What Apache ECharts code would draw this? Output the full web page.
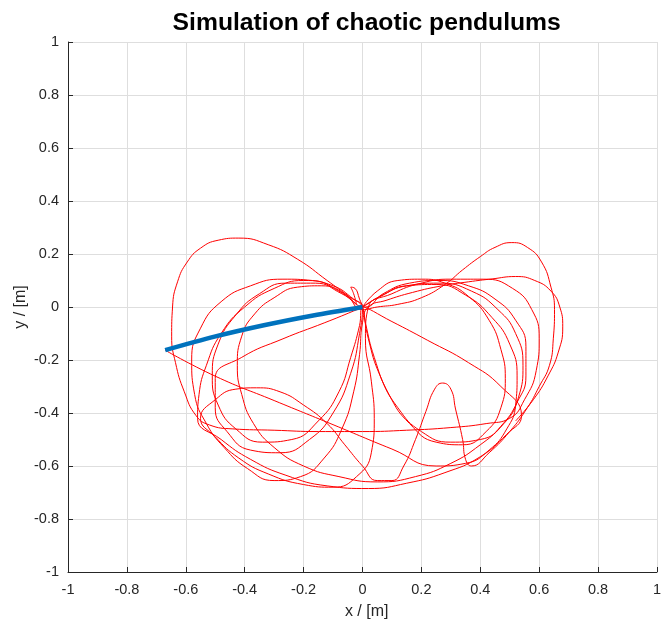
<!DOCTYPE html>
<html><head><meta charset="utf-8">
<script src="https://cdn.jsdelivr.net/npm/echarts@6/dist/echarts.min.js"></script>
<style>html,body{margin:0;padding:0;background:#fff}#c{width:664px;height:627px}</style>
</head><body><div id="c"></div>
<script>
const titleText = 'Simulation of chaotic pendulums';
const xLabel = 'x / [m]';
const yLabel = 'y / [m]';
const xTicks = [-1, -0.8, -0.6, -0.4, -0.2, 0, 0.2, 0.4, 0.6, 0.8, 1];
const yTicks = [-1, -0.8, -0.6, -0.4, -0.2, 0, 0.2, 0.4, 0.6, 0.8, 1];

// pendulum chain (pivot ... tip)
const armPoints = [[0, 0], [-0.1675, -0.032], [-0.335, -0.069], [-0.5025, -0.112], [-0.67, -0.163]];

// traced tip trajectory, segment by segment
const segA = [[0.52,-0.43],[0.58,-0.35],[0.63,-0.26],[0.665,-0.17],[0.68,-0.075],[0.67,0.0],[0.64,0.06],[0.585,0.1],[0.52,0.115],[0.44,0.106],[0.36,0.095],[0.27,0.08],[0.17,0.055],[0.08,0.025],[0.02,0.0]];
const segB = [[0.0,-0.06],[-0.01,-0.18],[-0.03,-0.32],[-0.07,-0.46],[-0.13,-0.57],[-0.21,-0.64],[-0.3,-0.655],[-0.39,-0.61],[-0.47,-0.53],[-0.53,-0.44],[-0.57,-0.33],[-0.58,-0.2],[-0.55,-0.08],[-0.48,0.02],[-0.38,0.08],[-0.27,0.105],[-0.17,0.1],[-0.08,0.06],[-0.02,0.01]];
const segC = [[-0.03,0.05],[-0.04,0.075],[-0.025,0.07],[-0.01,0.03],[0.0,0.0]];
const segQ = [[0.02,-0.12],[0.06,-0.26],[0.12,-0.38],[0.2,-0.47],[0.3,-0.51],[0.4,-0.5],[0.48,-0.44],[0.53,-0.34],[0.545,-0.22],[0.52,-0.1],[0.46,-0.01],[0.37,0.06],[0.26,0.09],[0.15,0.08],[0.06,0.04],[0.0,0.0]];
const segD = [[0.05,0.06],[0.12,0.1],[0.2,0.105],[0.28,0.09],[0.36,0.04],[0.43,-0.05],[0.47,-0.16],[0.485,-0.27],[0.47,-0.38],[0.42,-0.47],[0.34,-0.52],[0.25,-0.51],[0.16,-0.44],[0.09,-0.33],[0.04,-0.19],[0.01,-0.06],[0.0,0.0]];
const segE = [[-0.044,0.038],[-0.12,0.1],[-0.22,0.18],[-0.32,0.235],[-0.42,0.26],[-0.49,0.252],[-0.55,0.222],[-0.595,0.17],[-0.628,0.095],[-0.645,0.0],[-0.648,-0.11],[-0.635,-0.21],[-0.605,-0.32],[-0.565,-0.41]];
const segF = [[-0.52,-0.445],[-0.44,-0.46],[-0.3,-0.465],[-0.15,-0.47],[0.0,-0.47],[0.15,-0.465],[0.3,-0.455],[0.42,-0.44],[0.5,-0.42]];
const segG = [[0.55,-0.35],[0.59,-0.24],[0.6,-0.12],[0.575,-0.01],[0.51,0.07],[0.41,0.105],[0.3,0.105],[0.2,0.09],[0.1,0.05],[0.02,0.0]];
const segH = [[0.01,-0.12],[0.03,-0.28],[0.04,-0.42],[0.03,-0.55],[-0.02,-0.64],[-0.1,-0.68],[-0.2,-0.67],[-0.32,-0.63],[-0.42,-0.57],[-0.5,-0.49],[-0.55,-0.42]];
const segI = [[-0.5,-0.35],[-0.43,-0.31],[-0.36,-0.305],[-0.28,-0.32],[-0.2,-0.37],[-0.12,-0.44],[-0.06,-0.52],[0.0,-0.6],[0.05,-0.655],[0.1,-0.655],[0.14,-0.6],[0.18,-0.5],[0.215,-0.395],[0.245,-0.31],[0.272,-0.287],[0.3,-0.31],[0.316,-0.385],[0.34,-0.5],[0.35,-0.575],[0.37,-0.6],[0.43,-0.55],[0.5,-0.47],[0.56,-0.38]];
const segJ = [[0.6,-0.3],[0.635,-0.22],[0.648,-0.12],[0.652,-0.01],[0.64,0.075],[0.608,0.17],[0.56,0.225],[0.507,0.243],[0.45,0.225],[0.4,0.19],[0.34,0.14],[0.28,0.085],[0.2,0.035],[0.12,0.01],[0.05,0.0],[0.0,-0.01]];
const segK = [[-0.06,0.05],[-0.14,0.08],[-0.22,0.075],[-0.3,0.035],[-0.366,-0.026],[-0.41,-0.11],[-0.425,-0.22],[-0.41,-0.33],[-0.37,-0.44],[-0.3,-0.53],[-0.2,-0.6],[-0.08,-0.64],[0.05,-0.66],[0.18,-0.64],[0.3,-0.59],[0.4,-0.52],[0.47,-0.45]];
const segL = [[0.525,-0.36],[0.555,-0.26],[0.555,-0.15],[0.52,-0.05],[0.45,0.03],[0.36,0.08],[0.26,0.1],[0.16,0.09],[0.07,0.05],[0.01,0.0]];
const segR = [[-0.07,0.05],[-0.16,0.09],[-0.26,0.09],[-0.35,0.05],[-0.43,-0.03],[-0.49,-0.14],[-0.51,-0.26],[-0.49,-0.37],[-0.43,-0.46],[-0.34,-0.51],[-0.24,-0.5],[-0.15,-0.43],[-0.08,-0.32],[-0.04,-0.19],[-0.01,-0.07],[0.0,0.0]];
const segM = [[0.1,-0.055],[0.22,-0.125],[0.36,-0.21],[0.47,-0.3],[0.54,-0.41],[0.49,-0.48],[0.4,-0.565],[0.28,-0.625],[0.15,-0.665],[0.02,-0.685],[-0.12,-0.675],[-0.26,-0.635],[-0.38,-0.575],[-0.48,-0.5],[-0.56,-0.42]];
const segN = [[-0.555,-0.33],[-0.53,-0.22],[-0.48,-0.1],[-0.4,0.0],[-0.3,0.07],[-0.2,0.1],[-0.1,0.08],[-0.03,0.03],[0.0,0.0]];
const segO = [[-0.01,-0.1],[-0.04,-0.25],[-0.1,-0.4],[-0.18,-0.5],[-0.28,-0.55],[-0.38,-0.54],[-0.46,-0.47],[-0.5,-0.38],[-0.5,-0.27],[-0.41,-0.19],[-0.27,-0.12],[-0.13,-0.06],[-0.03,-0.015],[0.0,0.0]];
const segP = [[0.06,0.04],[0.15,0.08],[0.25,0.085],[0.35,0.045],[0.44,-0.04],[0.5,-0.14],[0.525,-0.26],[0.52,-0.37],[0.49,-0.46],[0.43,-0.54],[0.35,-0.59],[0.25,-0.6],[0.1,-0.536],[-0.1,-0.444],[-0.3,-0.353],[-0.5,-0.261],[-0.67,-0.163]];

const trajectory = [].concat(segA, segB, segC, segQ, segD, segE, segF, segG, segH, segI, segJ, segK, segL, segR, segM, segN, segO, segP);

const FONT = '"Liberation Sans", Arial, Helvetica, sans-serif';
const AX = '#262626';

function axis(ticks, margin) {
  return {
    type: 'value',
    min: ticks[0],
    max: ticks[ticks.length - 1],
    interval: 0.2,
    axisLine: { show: true, onZero: false, lineStyle: { color: AX, width: 1 } },
    axisTick: { show: true, inside: true, length: 5, lineStyle: { color: AX, width: 1 } },
    axisLabel: { color: AX, fontSize: 14.5, fontFamily: FONT, margin: margin },
    splitLine: { show: true, lineStyle: { color: '#dedede', width: 1 } }
  };
}

const chart = echarts.init(document.getElementById('c'), null, { renderer: 'canvas' });
chart.setOption({
  animation: false,
  backgroundColor: '#ffffff',
  grid: { left: 68, top: 42, width: 597, height: 530, containLabel: false },
  xAxis: axis(xTicks, 10),
  yAxis: axis(yTicks, 9),
  series: [
    { type: 'line', data: trajectory, smooth: 0.5, symbol: 'none', clip: true,
      lineStyle: { color: '#ff0000', width: 1 }, z: 2 },
    { type: 'line', data: armPoints, symbol: 'none', smooth: 0.3,
      lineStyle: { color: '#0072bd', width: 4.5 }, z: 3 }
  ],
  graphic: [
    { type: 'text', x: 366.7, y: 23, style: { text: titleText, font: 'bold 24.7px ' + FONT, fill: '#000', textAlign: 'center', textVerticalAlign: 'middle' } },
    { type: 'text', x: 366.7, y: 612, style: { text: xLabel, font: '16px ' + FONT, fill: AX, textAlign: 'center', textVerticalAlign: 'middle' } },
    { type: 'text', x: 21, y: 307, rotation: Math.PI / 2, style: { text: yLabel, font: '16px ' + FONT, fill: AX, textAlign: 'center', textVerticalAlign: 'middle' } }
  ]
});
</script>
</body></html>
